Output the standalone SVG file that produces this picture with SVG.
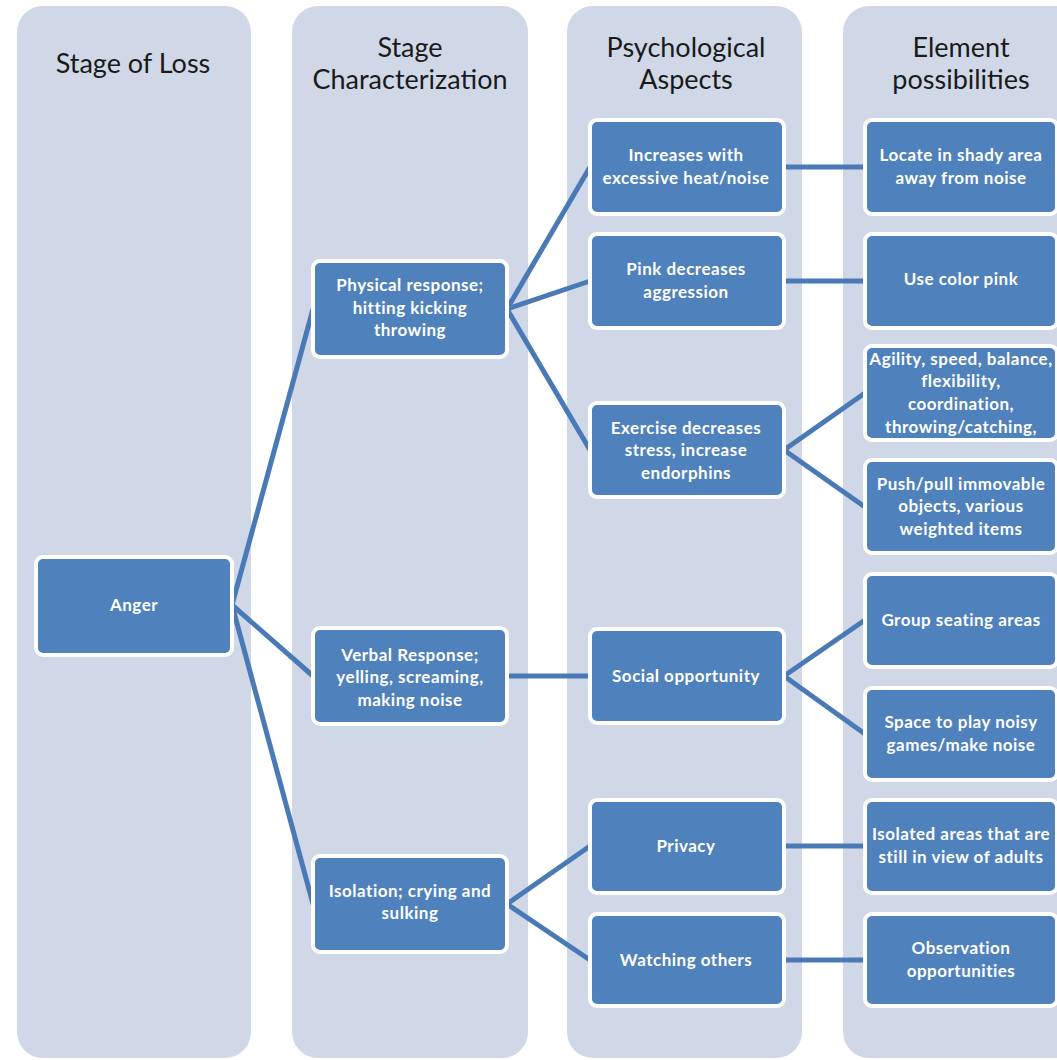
<svg xmlns="http://www.w3.org/2000/svg" width="1057" height="1060" viewBox="0 0 1057 1060">
<style>
.col{fill:#D0D8E8}
.hd{font-family:Lato,"Open Sans","Liberation Sans",sans-serif;font-size:27px;fill:#1a1a1a;text-anchor:middle}
.nd rect{fill:#4F81BD;stroke:#ffffff;stroke-width:4}
.nd text{font-family:Lato,"Open Sans","Liberation Sans",sans-serif;font-size:17px;letter-spacing:0.5px;font-weight:bold;fill:#ffffff;text-anchor:middle}
.cn line{stroke:#4A7AB6;stroke-width:5;stroke-linecap:butt}
</style>
<rect width="1057" height="1060" fill="#ffffff"/>
<g id="columns">
<rect class="col" x="17" y="6" width="234" height="1052" rx="26"/>
<rect class="col" x="292" y="6" width="236" height="1052" rx="26"/>
<rect class="col" x="567" y="6" width="235" height="1052" rx="26"/>
<rect class="col" x="843" y="6" width="240" height="1052" rx="26"/>
</g>
<g id="headers">
<text class="hd" x="133" y="73">Stage of Loss</text>
<text class="hd" x="410" y="57">Stage</text>
<text class="hd" x="410" y="89">Characterization</text>
<text class="hd" x="686" y="57">Psychological</text>
<text class="hd" x="686" y="89">Aspects</text>
<text class="hd" x="961" y="57">Element</text>
<text class="hd" x="961" y="89">possibilities</text>
</g>
<g id="connectors" class="cn">
<line x1="232" y1="605" x2="313" y2="309"/>
<line x1="232" y1="605" x2="313" y2="676"/>
<line x1="232" y1="605" x2="313" y2="904"/>
<line x1="507" y1="309" x2="590" y2="167"/>
<line x1="507" y1="309" x2="590" y2="281"/>
<line x1="507" y1="309" x2="590" y2="450"/>
<line x1="507" y1="676" x2="590" y2="676"/>
<line x1="507" y1="904" x2="590" y2="846"/>
<line x1="507" y1="904" x2="590" y2="960"/>
<line x1="784" y1="167" x2="865" y2="167"/>
<line x1="784" y1="281" x2="865" y2="281"/>
<line x1="784" y1="450" x2="865" y2="393"/>
<line x1="784" y1="450" x2="865" y2="507"/>
<line x1="784" y1="676" x2="865" y2="620"/>
<line x1="784" y1="676" x2="865" y2="734"/>
<line x1="784" y1="846" x2="865" y2="846"/>
<line x1="784" y1="960" x2="865" y2="960"/>
</g>
<g id="anger" class="nd"><rect x="36" y="557" width="196" height="98" rx="7"/><text x="134" y="611">Anger</text></g>
<g id="physical" class="nd"><rect x="313" y="261" width="194" height="96" rx="7"/><text x="410" y="291">Physical response;</text><text x="410" y="314">hitting kicking</text><text x="410" y="336">throwing</text></g>
<g id="verbal" class="nd"><rect x="313" y="628" width="194" height="96" rx="7"/><text x="410" y="661">Verbal Response;</text><text x="410" y="683">yelling, screaming,</text><text x="410" y="706">making noise</text></g>
<g id="isolation" class="nd"><rect x="313" y="856" width="194" height="96" rx="7"/><text x="410" y="897">Isolation; crying and</text><text x="410" y="919">sulking</text></g>
<g id="increases" class="nd"><rect x="590" y="120" width="194" height="94" rx="7"/><text x="686" y="161">Increases with</text><text x="686" y="184">excessive heat/noise</text></g>
<g id="pink" class="nd"><rect x="590" y="234" width="194" height="94" rx="7"/><text x="686" y="275">Pink decreases</text><text x="686" y="298">aggression</text></g>
<g id="exercise" class="nd"><rect x="590" y="403" width="194" height="94" rx="7"/><text x="686" y="434">Exercise decreases</text><text x="686" y="456">stress, increase</text><text x="686" y="479">endorphins</text></g>
<g id="social" class="nd"><rect x="590" y="629" width="194" height="94" rx="7"/><text x="686" y="682">Social opportunity</text></g>
<g id="privacy" class="nd"><rect x="590" y="800" width="194" height="93" rx="7"/><text x="686" y="852">Privacy</text></g>
<g id="watching" class="nd"><rect x="590" y="914" width="194" height="92" rx="7"/><text x="686" y="966">Watching others</text></g>
<g id="locate" class="nd"><rect x="865" y="120" width="192" height="94" rx="7"/><text x="961" y="161">Locate in shady area</text><text x="961" y="184">away from noise</text></g>
<g id="usepink" class="nd"><rect x="865" y="234" width="192" height="94" rx="7"/><text x="961" y="285">Use color pink</text></g>
<g id="agility" class="nd"><rect x="865" y="346" width="192" height="94" rx="7"/><text x="961" y="365">Agility, speed, balance,</text><text x="961" y="387">flexibility,</text><text x="961" y="410">coordination,</text><text x="961" y="433">throwing/catching,</text></g>
<g id="push" class="nd"><rect x="865" y="460" width="192" height="93" rx="7"/><text x="961" y="490">Push/pull immovable</text><text x="961" y="512">objects, various</text><text x="961" y="535">weighted items</text></g>
<g id="group" class="nd"><rect x="865" y="574" width="192" height="93" rx="7"/><text x="961" y="626">Group seating areas</text></g>
<g id="space" class="nd"><rect x="865" y="688" width="192" height="92" rx="7"/><text x="961" y="728">Space to play noisy</text><text x="961" y="751">games/make noise</text></g>
<g id="isolated" class="nd"><rect x="865" y="800" width="192" height="93" rx="7"/><text x="961" y="840">Isolated areas that are</text><text x="961" y="863">still in view of adults</text></g>
<g id="observation" class="nd"><rect x="865" y="914" width="192" height="92" rx="7"/><text x="961" y="954">Observation</text><text x="961" y="977">opportunities</text></g>
</svg>
